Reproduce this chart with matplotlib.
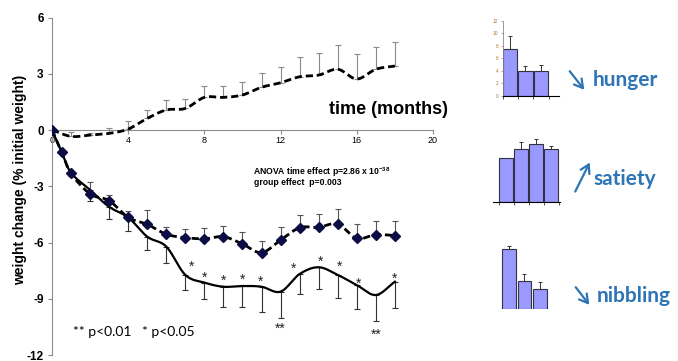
import numpy as np
import matplotlib
matplotlib.use("Agg")
import matplotlib.pyplot as plt
from matplotlib.patches import FancyArrowPatch

plt.rcParams['font.family'] = ['Liberation Sans', 'DejaVu Sans']

# ---------------- data ----------------
months_ctrl = [0, 1, 2, 3, 4, 5, 6, 7, 8, 9, 10, 11, 12, 13, 14, 15, 16, 17, 18]
ctrl_mean = [0, -0.34, -0.27, -0.18, 0.05, 0.62, 1.07, 1.15, 1.74, 1.74, 1.87,
             2.28, 2.52, 2.84, 2.93, 3.24, 2.72, 3.24, 3.41]
ctrl_err = [0, 0.22, 0.13, 0.27, 0.43, 0.45, 0.53, 0.5, 0.61, 0.61, 0.69,
            0.74, 0.86, 1.04, 1.19, 1.28, 1.33, 1.17, 1.27]

months_trt = [0, 0.5, 1, 2, 3, 4, 5, 6, 7, 8, 9, 10, 11, 12, 13, 14, 15, 16, 17, 18]
dash_mean = [0, -1.16, -2.31, -3.41, -3.77, -4.66, -5.03, -5.56, -5.74, -5.8,
             -5.69, -6.08, -6.54, -5.87, -5.21, -5.19, -5.01, -5.78, -5.58, -5.63]
dash_err = [0, 0.1, 0.15, 0.65, 0.3, 0.36, 0.76, 0.4, 0.46, 0.55, 0.59, 0.62,
            0.64, 0.68, 0.68, 0.71, 0.78, 0.77, 0.73, 0.78]
solid_mean = [0, -1.16, -2.28, -3.2, -4.1, -4.66, -5.69, -6.22, -7.73, -8.14,
              -8.36, -8.32, -8.36, -8.62, -7.68, -7.32, -7.73, -8.27, -8.8, -8.09]
solid_err = [0, 0.1, 0.15, 0.57, 0.67, 0.71, 0.71, 0.89, 0.8, 0.89, 1.06, 1.14,
             1.33, 1.42, 1.07, 1.18, 1.23, 1.3, 1.39, 1.42]

star1_x = [7.3, 8.0, 9.0, 10.0, 10.95, 12.7, 14.1, 15.1, 16.1, 18.0]
star1_y = [-7.32, -7.86, -8.05, -8.0, -8.09, -7.38, -7.02, -7.32, -8.18, -7.91]
star2_x = [11.97, 17.0]
star2_y = [-10.58, -10.93]

y_ticks = [6, 3, 0, -3, -6, -9, -12]
x_ticks = [0, 4, 8, 12, 16, 20]

hunger_vals = [7.4, 3.9, 3.9]
hunger_err = [2.15, 0.8, 1.0]
satiety_vals = [4.34, 5.27, 5.77, 5.27]
satiety_err = [0.0, 0.73, 0.47, 0.3]
nibbling_vals = [6.0, 2.8, 2.03]
nibbling_err = [0.3, 0.67, 0.64]

# ---------------- helpers ----------------
W, H = 678, 361


def fx(px):
    return px / W


def fy(py):
    return 1 - py / H


def smooth(x, y, n=24):
    P = np.column_stack([np.asarray(x, float), np.asarray(y, float)])
    P = np.vstack([2 * P[0] - P[1], P, 2 * P[-1] - P[-2]])
    t = np.linspace(0, 1, n, endpoint=False)[:, None]
    out = []
    for i in range(1, len(P) - 2):
        p0, p1, p2, p3 = P[i - 1], P[i], P[i + 1], P[i + 2]
        seg = 0.5 * ((2 * p1) + (-p0 + p2) * t + (2 * p0 - 5 * p1 + 4 * p2 - p3) * t ** 2
                     + (-p0 + 3 * p1 - 3 * p2 + p3) * t ** 3)
        out.append(seg)
    out.append(P[-2][None, :])
    return np.vstack(out)


fig = plt.figure(figsize=(W / 100, H / 100), dpi=100)

# ---------------- main chart ----------------
ax = fig.add_axes([fx(52), fy(355), fx(433) - fx(52), fy(17.5) - fy(355)])
ax.set_xlim(0, 20)
ax.set_ylim(-12, 6)

gray = '#8c8c8c'
ax.errorbar(months_ctrl, ctrl_mean, yerr=[np.zeros(len(ctrl_err)), ctrl_err], fmt='none',
            ecolor='#8a8a8a', elinewidth=0.8, capsize=2, capthick=0.8, zorder=2)
c = smooth(months_ctrl, ctrl_mean)
ax.plot(c[:, 0], c[:, 1], color='black', lw=2, ls=(0, (2.6, 1.4)), zorder=3)

ax.errorbar(months_trt, dash_mean, yerr=[np.zeros(len(dash_err)), dash_err], fmt='none',
            ecolor='#555555', elinewidth=0.8, capsize=2, capthick=0.8, zorder=2)
ax.errorbar(months_trt, solid_mean, yerr=[solid_err, np.zeros(len(solid_err))], fmt='none',
            ecolor='#333333', elinewidth=0.8, capsize=2, capthick=0.8, zorder=2)

s = smooth(months_trt, solid_mean)
ax.plot(s[:, 0], s[:, 1], color='black', lw=1.6, zorder=3)
d = smooth(months_trt, dash_mean)
ax.plot(d[:, 0], d[:, 1], color='black', lw=2, ls=(0, (2.6, 1.4)), zorder=4)
ax.plot(months_trt, dash_mean, ls='none', marker='D', ms=5, color='#0d0d45', zorder=5)

for xs, ys in zip(star1_x, star1_y):
    ax.text(xs, ys, '*', ha='center', va='center', fontsize=10, color='#222222')
for xs, ys in zip(star2_x, star2_y):
    ax.text(xs, ys, '**', ha='center', va='center', fontsize=10, color='#222222')

for sp in ['top', 'right']:
    ax.spines[sp].set_visible(False)
ax.spines['bottom'].set_position(('data', 0))
ax.spines['left'].set_color(gray)
ax.spines['bottom'].set_color(gray)
ax.set_yticks(y_ticks)
ax.set_yticklabels([str(v) for v in y_ticks], fontsize=8.5, fontweight='bold')
ax.set_xticks(x_ticks)
ax.set_xticklabels([str(v) for v in x_ticks], fontsize=6.5)
ax.tick_params(axis='y', length=3, color=gray, pad=3)
ax.tick_params(axis='x', length=3, color=gray, pad=1)

ax.text(20.8, 1.07, 'time (months)', ha='right', va='center', fontsize=13, fontweight='bold')
ax.text(10.55, -2.24, r'ANOVA time effect p=2.86 x 10$^{\mathregular{-38}}$', ha='left',
        va='center', fontsize=6.2, fontweight='bold')
ax.text(10.6, -2.82, 'group effect  p=0.003', ha='left', va='center', fontsize=6.2,
        fontweight='bold')
ax.text(1.1, -10.78, '** p<0.01   * p<0.05', ha='left', va='center', fontsize=10,
        family=['Lato', 'DejaVu Sans'])

fig.text(fx(20), fy(180), 'weight change (% initial weight)', rotation=90, ha='center',
         va='center', fontsize=10, fontweight='bold')

# ---------------- small bar charts ----------------
bar_col = '#9999ff'
edge_col = '#333344'
blue = '#2e75b6'

# hunger
ah = fig.add_axes([fx(502.7), fy(95.7), fx(559) - fx(502.7), fy(20.7) - fy(95.7)])
hx = np.arange(len(hunger_vals))
ah.bar(hx, hunger_vals, width=0.92, color=bar_col, edgecolor=edge_col, lw=0.8, zorder=2)
ah.errorbar(hx, hunger_vals, yerr=[np.zeros(3), hunger_err], fmt='none', ecolor='#333333',
            elinewidth=0.7, capsize=1.5, capthick=0.7, zorder=3)
ah.set_xlim(-0.47, 3.16)
ah.set_ylim(0, 12)
ah.set_yticks([0, 2, 4, 6, 8, 10, 12])
ah.set_yticklabels(['0', '2', '4', '6', '8', '10', '12'], fontsize=3.5, color='#b07838')
ah.set_xticks([-0.47, 0.5, 1.5, 2.5])
ah.set_xticklabels([])
ah.tick_params(axis='y', length=1.5, width=0.5, pad=1.5, color='#888888')
ah.tick_params(axis='x', length=2, width=0.6, color='#333333')
for sp in ['top', 'right']:
    ah.spines[sp].set_visible(False)
ah.spines['left'].set_color('#888888')
ah.spines['left'].set_linewidth(0.6)
ah.spines['bottom'].set_linewidth(0.8)

# satiety
asat = fig.add_axes([fx(493), fy(201.7), fx(560) - fx(493), fy(136.7) - fy(201.7)])
sx = np.arange(len(satiety_vals))
asat.bar(sx, satiety_vals, width=0.93, color=bar_col, edgecolor=edge_col, lw=0.8, zorder=2)
asat.errorbar(sx[1:], satiety_vals[1:], yerr=[np.zeros(3), satiety_err[1:]], fmt='none',
              ecolor='#333333', elinewidth=0.7, capsize=1.5, capthick=0.7, zorder=3)
asat.set_xlim(-0.87, 3.6)
asat.set_ylim(0, 6.5)
asat.set_yticks([])
asat.set_xticks([-0.47, 0.5, 1.5, 2.5, 3.5])
asat.set_xticklabels([])
asat.tick_params(axis='x', length=2, width=0.6, color='#333333')
for sp in ['top', 'right', 'left']:
    asat.spines[sp].set_visible(False)
asat.spines['bottom'].set_linewidth(0.8)

# nibbling
an = fig.add_axes([fx(500), fy(309), fx(560) - fx(500), fy(244) - fy(309)])
nx = np.arange(len(nibbling_vals))
an.bar(nx, nibbling_vals, width=0.9, color=bar_col, edgecolor=edge_col, lw=0.8, zorder=2)
an.errorbar(nx, nibbling_vals, yerr=[np.zeros(3), nibbling_err], fmt='none', ecolor='#333333',
            elinewidth=0.7, capsize=1.5, capthick=0.7, zorder=3)
an.set_xlim(-0.58, 3.29)
an.set_ylim(0, 6.5)
an.axis('off')

# labels with arrows
for (x0, y0, x1, y1), label, tx, ty in [((568, 69, 586, 92), 'hunger', 593, 80),
                                        ((574, 194, 591, 160), 'satiety', 593, 179),
                                        ((574, 285, 591, 307), 'nibbling', 597, 296)]:
    arr = FancyArrowPatch((fx(x0), fy(y0)), (fx(x1), fy(y1)), transform=fig.transFigure,
                          arrowstyle='->,head_length=6,head_width=3.5', color=blue, lw=1.6)
    fig.add_artist(arr)
    fig.text(fx(tx), fy(ty), label, ha='left', va='center', fontsize=15, fontweight='bold',
             color=blue, family=['Lato', 'DejaVu Sans'])

fig.savefig('out.png', dpi=100)
